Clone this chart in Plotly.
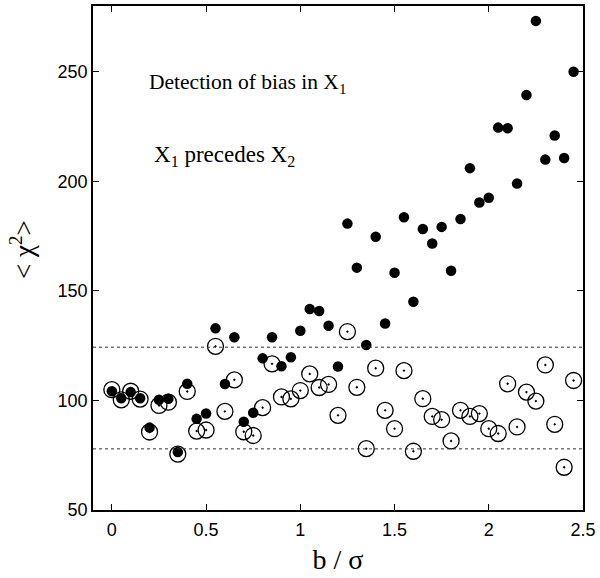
import plotly.graph_objects as go

# b / sigma values
b_sigma = [0.00, 0.05, 0.10, 0.15, 0.20, 0.25, 0.30, 0.35, 0.40, 0.45,
           0.50, 0.55, 0.60, 0.65, 0.70, 0.75, 0.80, 0.85, 0.90, 0.95,
           1.00, 1.05, 1.10, 1.15, 1.20, 1.25, 1.30, 1.35, 1.40, 1.45,
           1.50, 1.55, 1.60, 1.65, 1.70, 1.75, 1.80, 1.85, 1.90, 1.95,
           2.00, 2.05, 2.10, 2.15, 2.20, 2.25, 2.30, 2.35, 2.40, 2.45]

# <chi^2>, filled symbols
chi2_filled = [104.2, 101.0, 103.8, 101.0, 87.6, 100.3, 100.8, 76.5, 107.6, 91.6,
               94.0, 132.9, 107.5, 128.8, 90.3, 94.4, 119.2, 128.8, 115.6, 119.7,
               131.8, 141.7, 140.8, 134.1, 115.5, 180.7, 160.6, 125.3, 174.7, 135.1,
               158.3, 183.6, 145.0, 178.2, 171.6, 179.2, 159.2, 182.8, 206.0, 190.3,
               192.5, 224.5, 224.2, 199.0, 239.4, 273.2, 209.9, 220.9, 210.6, 250.0]

# <chi^2>, open symbols
chi2_open = [104.9, 100.3, 104.2, 100.6, 85.6, 97.7, 99.2, 75.5, 104.1, 86.0,
             86.5, 124.7, 95.0, 109.4, 85.7, 84.0, 96.7, 116.7, 101.6, 100.7,
             104.5, 112.1, 105.9, 107.3, 93.2, 131.4, 106.0, 78.0, 114.7, 95.5,
             87.1, 113.6, 76.8, 100.8, 92.7, 91.2, 81.5, 95.5, 92.7, 94.0,
             87.1, 84.9, 107.6, 87.9, 103.8, 99.7, 116.2, 89.1, 69.5, 109.1]

# confidence band limits (dotted lines)
band_levels = [77.9, 124.3]

x_ticks = [0, 0.5, 1, 1.5, 2, 2.5]
x_tick_text = ["0", "0.5", "1", "1.5", "2", "2.5"]
y_ticks = [50, 100, 150, 200, 250]
y_tick_text = ["50", "100", "150", "200", "250"]

fig = go.Figure()

fig.add_trace(go.Scatter(
    x=b_sigma, y=chi2_open, mode="markers", name="open",
    marker=dict(symbol="circle-open-dot", size=16, color="black",
                line=dict(width=1.3, color="black")),
    showlegend=False,
))
fig.add_trace(go.Scatter(
    x=b_sigma, y=chi2_filled, mode="markers", name="filled",
    marker=dict(symbol="circle", size=10.5, color="black",
                line=dict(width=0)),
    showlegend=False,
))

for lv in band_levels:
    fig.add_shape(type="line", xref="x domain", yref="y",
                  x0=0, x1=1, y0=lv, y1=lv,
                  line=dict(color="#333333", width=1, dash="dot"))

serif = "Liberation Serif, Times New Roman, serif"
sans = "Liberation Sans, Arial, sans-serif"

fig.add_annotation(xref="paper", yref="paper", x=0.11, y=0.846,
                   xanchor="left", yanchor="middle", showarrow=False,
                   text="Detection of bias in X<sub>1</sub>",
                   font=dict(family=serif, size=21.5, color="black"))
fig.add_annotation(xref="paper", yref="paper", x=0.121, y=0.702,
                   xanchor="left", yanchor="middle", showarrow=False,
                   text="X<sub>1</sub> precedes X<sub>2</sub>",
                   font=dict(family=serif, size=23, color="black"))

# y-axis title placed as rotated annotation
fig.add_annotation(xref="paper", yref="paper", x=-0.145, y=0.518,
                   xanchor="center", yanchor="middle", showarrow=False,
                   textangle=-90, text="< χ<sup>2</sup>>",
                   font=dict(family=serif, size=27, color="black"))

fig.update_layout(
    width=600, height=578,
    margin=dict(l=93, r=16, t=4, b=68),
    paper_bgcolor="white", plot_bgcolor="white",
    xaxis=dict(
        range=[-0.1, 2.5], tickvals=x_ticks, ticktext=x_tick_text,
        showgrid=False, zeroline=False, showline=True, mirror="ticks",
        linecolor="black", linewidth=1.5, ticks="inside", ticklen=6,
        tickwidth=1, tickcolor="black", ticklabelstandoff=3,
        tickfont=dict(family=sans, size=18, color="black"),
        title=dict(text="b / σ", font=dict(family=serif, size=28, color="black"),
                   standoff=10),
    ),
    yaxis=dict(
        range=[50, 280], tickvals=y_ticks, ticktext=y_tick_text,
        showgrid=False, zeroline=False, showline=True, mirror="ticks",
        linecolor="black", linewidth=1.5, ticks="inside", ticklen=6,
        tickwidth=1, tickcolor="black",
        tickfont=dict(family=sans, size=18, color="black"),
    ),
)

fig.write_html("out.html", config={"displayModeBar": False},
               post_script="document.body.style.margin='0px';document.body.style.overflow='hidden';")
